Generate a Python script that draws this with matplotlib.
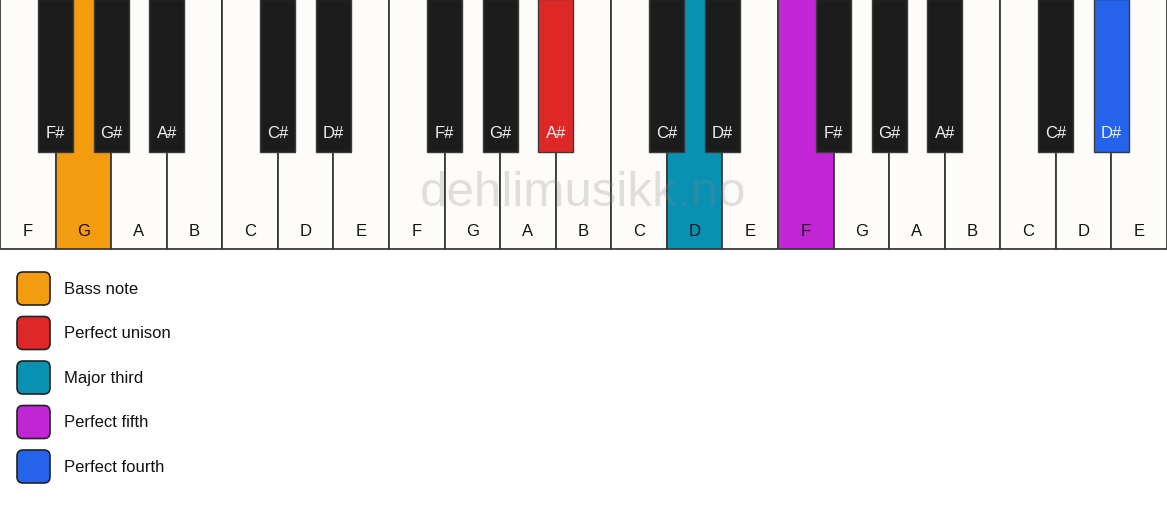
import matplotlib.pyplot as plt
from matplotlib.patches import Rectangle, FancyBboxPatch

plt.rcParams['font.family'] = ['Liberation Sans', 'DejaVu Sans']

# keyboard: three octaves F..E
white_notes = ["F", "G", "A", "B", "C", "D", "E"] * 3
# black keys sit on the boundary after a white key with this name
black_notes = {"F": "F#", "G": "G#", "A": "A#", "C": "C#", "D": "D#"}

# highlighted keys -> colour
legend_labels = ["Bass note", "Perfect unison", "Major third", "Perfect fifth", "Perfect fourth"]
legend_colors = ["#F39C0F", "#DE2828", "#0891B2", "#C026D3", "#2563EB"]
highlight_white = {1: "#F39C0F", 12: "#0891B2", 14: "#C026D3"}
highlight_black = {9: "#DE2828", 19: "#2563EB"}  # boundary after white key idx

W, H = 1167, 506
fig = plt.figure(figsize=(W / 100, H / 100), dpi=100)
ax = fig.add_axes([0, 0, 1, 1])
ax.set_xlim(0, W)
ax.set_ylim(H, 0)
ax.axis("off")

kb_h = 250
bk_h = 153
ww = W / len(white_notes)
bw = ww * 0.63

# white keys
for i, name in enumerate(white_notes):
    fc = highlight_white.get(i, "#FDFCF9")
    ax.add_patch(Rectangle((i * ww, 0), ww, kb_h, facecolor=fc,
                           edgecolor="#3a3a3a", linewidth=1.3, zorder=1))
    ax.text(i * ww + ww / 2, 231, name, ha="center", va="center",
            fontsize=12, color="#111111", zorder=2)

# black keys
for i, name in enumerate(white_notes):
    if name not in black_notes or i == len(white_notes) - 1:
        continue
    x = (i + 1) * ww - bw / 2
    fc = highlight_black.get(i, "#1c1c1c")
    ax.add_patch(Rectangle((x, 0), bw, bk_h, facecolor=fc,
                           edgecolor="#3a3a3a", linewidth=1.0, zorder=3))
    ax.text((i + 1) * ww, 133, black_notes[name], ha="center", va="center",
            fontsize=12, color="#f2f2f2", zorder=4)

# watermark on top
ax.text(583, 194, "dehlimusikk.no", ha="center", va="center",
        fontsize=35.5, color="#888888", alpha=0.25, zorder=5)

# legend
for k, (lab, col) in enumerate(zip(legend_labels, legend_colors)):
    y = 289.5 + k * 44.5
    ax.add_patch(FancyBboxPatch((17 + 6, y - 16.5 + 6), 33 - 12, 33 - 12,
                                boxstyle="round,pad=6", facecolor=col,
                                edgecolor="#222222", linewidth=1.2))
    ax.text(64, y, lab, ha="left", va="center", fontsize=12, color="#111111")

fig.savefig("out.png", dpi=100)
